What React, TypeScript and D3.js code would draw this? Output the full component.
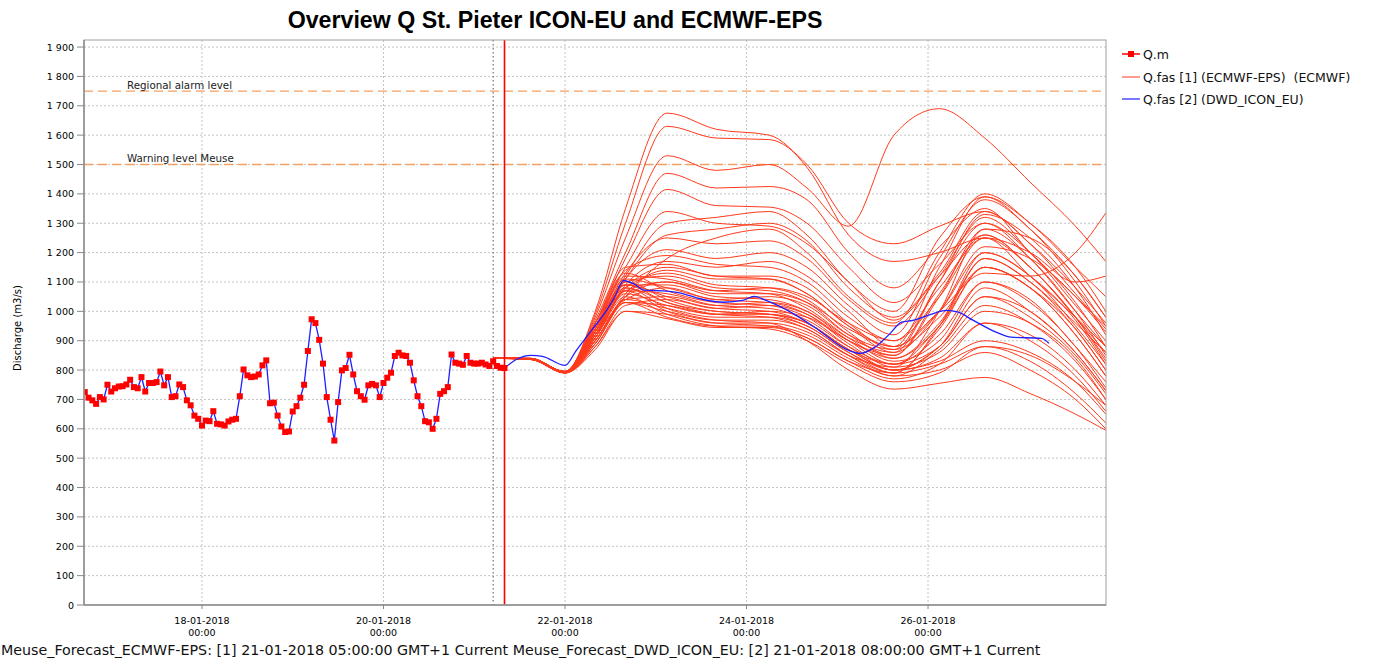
import React, { useEffect, useRef } from 'react';
import * as d3 from 'd3';

// observed discharge Q.m, hourly from 16-01-2018 17:00 up to 21-01-2018 08:00
const qmStart = '2018-01-16T17:00';
const qmValues = [
  725, 706, 697, 685, 708, 700, 750, 727, 738, 744,
  745, 751, 767, 742, 738, 776, 727, 756, 756, 759,
  795, 748, 776, 708, 711, 751, 742, 697, 680, 645,
  634, 611, 628, 626, 660, 617, 615, 611, 625, 631,
  634, 711, 802, 782, 776, 778, 785, 816, 833, 687,
  689, 645, 608, 589, 591, 659, 677, 706, 750, 865,
  973, 960, 903, 822, 708, 631, 560, 691, 799, 807,
  852, 785, 728, 711, 699, 748, 753, 748, 708, 756,
  774, 791, 848, 859, 850, 848, 825, 765, 711, 677,
  626, 622, 600, 634, 719, 728, 742, 853, 825, 822,
  818, 848, 825, 822, 822, 825, 819, 814, 830, 814,
  808, 807,
];

// Q.fas [2] DWD ICON-EU forecast, issued 21-01-2018 08:00
const dwdTimes = [
  '2018-01-21T08:00', '2018-01-21T11:00', '2018-01-21T15:00', '2018-01-21T18:00',
  '2018-01-22T00:00', '2018-01-22T03:00', '2018-01-22T07:00', '2018-01-22T11:00',
  '2018-01-22T13:00', '2018-01-22T15:30', '2018-01-22T18:00', '2018-01-22T21:00',
  '2018-01-23T02:00', '2018-01-23T06:00', '2018-01-23T12:00', '2018-01-23T18:00',
  '2018-01-23T23:00', '2018-01-24T02:00', '2018-01-24T05:00', '2018-01-24T12:00',
  '2018-01-24T18:00', '2018-01-25T03:00', '2018-01-25T06:00', '2018-01-25T10:00',
  '2018-01-25T14:00', '2018-01-25T17:00', '2018-01-25T20:00', '2018-01-26T00:00',
  '2018-01-26T05:00', '2018-01-26T08:00', '2018-01-26T12:00', '2018-01-26T18:00',
  '2018-01-26T22:00', '2018-01-27T06:00', '2018-01-27T08:00',
];
const dwdValues = [
  807, 835, 850, 847,
  816, 867, 935, 1003,
  1045, 1105, 1095, 1072,
  1070, 1064, 1042, 1031,
  1037, 1051, 1038, 995,
  946, 867, 857, 878,
  925, 963, 969, 986,
  1003, 997, 969, 929,
  912, 908, 891,
];

// Q.fas [1] ECMWF-EPS members, issued 21-01-2018 05:00
const ecmwfTimes = [
  '2018-01-21T05:00', '2018-01-21T15:00', '2018-01-22T00:00', '2018-01-22T08:00',
  '2018-01-22T16:00', '2018-01-23T03:00', '2018-01-23T16:00', '2018-01-24T06:00',
  '2018-01-24T16:00', '2018-01-25T03:00', '2018-01-25T15:00', '2018-01-26T03:00',
  '2018-01-26T15:00', '2018-01-27T03:00', '2018-01-27T15:00', '2018-01-27T23:00',
];
const ecmwfMembers = [
  [842, 840, 795, 1000, 1350, 1675, 1620, 1600, 1490, 1260, 1170, 1200, 1250, 1120, 980, 880],
  [842, 838, 796, 990, 1300, 1630, 1590, 1585, 1500, 1300, 1230, 1290, 1340, 1230, 1080, 960],
  [840, 840, 794, 980, 1250, 1530, 1480, 1500, 1420, 1290, 1600, 1690, 1590, 1440, 1290, 1170],
  [841, 840, 795, 970, 1200, 1470, 1420, 1425, 1380, 1200, 1080, 1220, 1350, 1200, 1050, 950],
  [842, 838, 793, 960, 1180, 1415, 1360, 1355, 1300, 1150, 1030, 1160, 1300, 1180, 1000, 880],
  [840, 839, 795, 960, 1150, 1340, 1300, 1290, 1230, 1100, 970, 1120, 1260, 1150, 980, 830],
  [841, 838, 792, 940, 1130, 1250, 1230, 1240, 1180, 1040, 950, 1120, 1320, 1200, 1020, 900],
  [840, 837, 793, 930, 1110, 1210, 1180, 1200, 1150, 1020, 920, 1180, 1380, 1280, 1100, 950],
  [842, 839, 794, 950, 1140, 1190, 1160, 1150, 1100, 980, 900, 1050, 1250, 1150, 980, 860],
  [840, 838, 791, 920, 1090, 1170, 1150, 1170, 1120, 1000, 880, 1000, 1200, 1120, 950, 820],
  [841, 840, 795, 960, 1150, 1160, 1120, 1120, 1080, 960, 870, 980, 1150, 1080, 920, 780],
  [840, 836, 790, 900, 1060, 1140, 1110, 1110, 1060, 950, 860, 1100, 1330, 1250, 1080, 920],
  [842, 838, 793, 910, 1080, 1130, 1090, 1080, 1040, 930, 840, 950, 1180, 1100, 940, 800],
  [840, 837, 792, 930, 1100, 1120, 1080, 1070, 1030, 920, 850, 1050, 1280, 1180, 1000, 850],
  [841, 839, 794, 940, 1120, 1110, 1070, 1060, 1010, 910, 830, 900, 1100, 1040, 880, 760],
  [840, 838, 791, 900, 1050, 1100, 1060, 1060, 1030, 940, 880, 1150, 1390, 1300, 1150, 1000],
  [842, 837, 793, 920, 1090, 1090, 1050, 1040, 1000, 900, 820, 880, 1050, 1000, 860, 730],
  [840, 838, 794, 950, 1110, 1080, 1040, 1030, 990, 890, 810, 860, 1000, 960, 840, 700],
  [841, 836, 790, 890, 1040, 1080, 1040, 1050, 1020, 920, 870, 1100, 1300, 1200, 1030, 880],
  [840, 839, 795, 960, 1130, 1070, 1030, 1020, 980, 880, 800, 840, 960, 920, 800, 680],
  [842, 838, 792, 910, 1070, 1060, 1020, 1010, 970, 880, 820, 950, 1150, 1080, 920, 780],
  [840, 837, 793, 930, 1090, 1050, 1010, 1000, 960, 870, 800, 830, 900, 860, 760, 650],
  [841, 838, 791, 900, 1040, 1050, 1020, 1030, 1000, 910, 860, 1000, 1220, 1180, 1050, 930],
  [840, 839, 794, 940, 1100, 1040, 1000, 990, 950, 860, 790, 820, 880, 830, 720, 620],
  [842, 836, 790, 880, 1020, 1040, 1010, 1020, 990, 900, 850, 1060, 1260, 1150, 980, 840],
  [840, 838, 793, 920, 1080, 1030, 990, 980, 940, 850, 780, 800, 860, 800, 700, 600],
  [841, 837, 792, 910, 1060, 1020, 990, 990, 960, 870, 820, 920, 1100, 1030, 880, 740],
  [840, 838, 794, 940, 1080, 1010, 970, 960, 900, 800, 735, 755, 775, 720, 650, 595],
  [842, 838, 791, 900, 1040, 1010, 980, 980, 950, 860, 800, 880, 1050, 980, 850, 720],
  [840, 836, 792, 890, 1030, 1000, 970, 970, 940, 850, 790, 950, 1200, 1120, 970, 820],
  [841, 839, 794, 930, 1070, 1000, 960, 950, 910, 830, 770, 820, 960, 900, 780, 660],
  [840, 837, 790, 870, 1000, 990, 960, 960, 930, 850, 810, 1000, 1280, 1250, 1120, 980],
  [842, 838, 793, 910, 1050, 990, 950, 940, 900, 820, 760, 790, 880, 850, 760, 680],
  [840, 838, 792, 900, 1030, 980, 950, 950, 920, 840, 780, 870, 1020, 960, 830, 700],
  [841, 836, 791, 880, 1000, 975, 945, 945, 910, 830, 790, 940, 1150, 1080, 940, 800],
  [840, 839, 794, 920, 1050, 1180, 1250, 1280, 1200, 1050, 960, 1200, 1400, 1300, 1150, 1050],
  [842, 838, 795, 940, 1120, 1300, 1320, 1340, 1260, 1100, 1000, 1250, 1390, 1280, 1120, 980],
  [840, 837, 793, 930, 1110, 1260, 1280, 1300, 1240, 1080, 980, 1130, 1340, 1230, 1060, 940],
  [841, 838, 792, 920, 1080, 1150, 1120, 1110, 1060, 950, 880, 1000, 1130, 1120, 1200, 1335],
  [840, 838, 794, 910, 1070, 1100, 1070, 1080, 1050, 960, 900, 1080, 1250, 1200, 1100, 1120],
  [842, 837, 791, 890, 1030, 1020, 990, 1000, 980, 900, 840, 960, 1180, 1100, 960, 860],
  [840, 839, 795, 950, 1090, 1030, 1000, 990, 960, 870, 800, 880, 1080, 1000, 860, 730],
];

const thresholds = [
  { label: 'Regional alarm level', value: 1750 },
  { label: 'Warning level Meuse', value: 1500 },
];
const xTickDates = ['2018-01-18T00:00', '2018-01-20T00:00', '2018-01-22T00:00', '2018-01-24T00:00', '2018-01-26T00:00'];
const legendLabels = ['Q.m', 'Q.fas [1] (ECMWF-EPS)  (ECMWF)', 'Q.fas [2] (DWD_ICON_EU)'];
const forecastTimes = ['2018-01-21T05:00', '2018-01-21T08:00']; // ECMWF, DWD issue times
const footer = 'Meuse_Forecast_ECMWF-EPS: [1] 21-01-2018 05:00:00 GMT+1 Current Meuse_Forecast_DWD_ICON_EU: [2] 21-01-2018 08:00:00 GMT+1 Current';

const W = 1373;
const H = 666;
const FONT = '"DejaVu Sans", Verdana, sans-serif';
const ENS_COLOR = '#ff3a1c';
const BLUE = '#1f1fff';

const App = () => {
  const ref = useRef<SVGSVGElement>(null);

  useEffect(() => {
    document.body.style.margin = '0';
    drawChart();
  }, []);

  const drawChart = () => {
    const parse = d3.timeParse('%Y-%m-%dT%H:%M');
    const svg = d3.select(ref.current);
    svg.selectAll('*').remove();

    const left = 84, right = 1106, top = 40, bottom = 605;

    const x = d3.scaleTime()
      .domain([new Date(2018, 0, 16, 16, 48), new Date(2018, 0, 27, 23, 4)])
      .range([left, right]);
    const y = d3.scaleLinear().domain([0, 1924]).range([bottom, top]);

    const fmt = d3.formatLocale({ decimal: ',', thousands: '\u00a0', grouping: [3], currency: ['', ''] }).format(',d');

    svg.append('rect').attr('width', W).attr('height', H).attr('fill', '#fff');

    // title
    svg.append('text')
      .attr('x', 555).attr('y', 28)
      .attr('text-anchor', 'middle')
      .style('font-family', '"Liberation Sans", Arial, sans-serif')
      .style('font-weight', 'bold')
      .style('font-size', '23.2px')
      .text('Overview Q St. Pieter ICON-EU and ECMWF-EPS');

    // grid
    const yTicks = d3.range(100, 2000, 100);
    svg.append('g').selectAll('line').data(yTicks).enter().append('line')
      .attr('x1', left).attr('x2', right)
      .attr('y1', d => y(d)).attr('y2', d => y(d))
      .attr('stroke', '#c4c4c4').attr('stroke-dasharray', '2,2');
    const xTicks = xTickDates.map(d => parse(d) as Date);
    svg.append('g').selectAll('line').data(xTicks).enter().append('line')
      .attr('x1', d => x(d)).attr('x2', d => x(d))
      .attr('y1', top).attr('y2', bottom)
      .attr('stroke', '#c4c4c4').attr('stroke-dasharray', '2,2');

    // thresholds
    thresholds.forEach((t, i) => {
      svg.append('line')
        .attr('x1', left).attr('x2', right)
        .attr('y1', y(t.value)).attr('y2', y(t.value))
        .attr('stroke', '#f5a060').attr('stroke-width', 1.4)
        .attr('stroke-dasharray', '9,5');
      svg.append('text')
        .attr('x', 127).attr('y', y(t.value) - (i === 0 ? 2 : 3))
        .style('font-family', FONT).style('font-size', '10.3px')
        .attr('fill', '#222')
        .text(t.label);
    });

    svg.append('clipPath').attr('id', 'plot-clip')
      .append('rect').attr('x', left).attr('y', top).attr('width', right - left).attr('height', bottom - top);
    const plot = svg.append('g').attr('clip-path', 'url(#plot-clip)');

    // ECMWF ensemble
    const ensT = ecmwfTimes.map(d => parse(d) as Date);
    const ensLine = d3.line<number>()
      .x((_, i) => x(ensT[i]))
      .y(d => y(d))
      .curve(d3.curveMonotoneX);
    plot.append('g').selectAll('path').data(ecmwfMembers).enter().append('path')
      .attr('d', d => ensLine(d))
      .attr('fill', 'none')
      .attr('stroke', ENS_COLOR)
      .attr('stroke-width', 1);

    // forecast issue lines
    const [ecTime, dwdTime] = forecastTimes.map(d => parse(d) as Date);
    plot.append('line')
      .attr('x1', x(ecTime)).attr('x2', x(ecTime)).attr('y1', top).attr('y2', bottom)
      .attr('stroke', '#555').attr('stroke-dasharray', '1.5,2.5');
    plot.append('line')
      .attr('x1', x(dwdTime)).attr('x2', x(dwdTime)).attr('y1', top).attr('y2', bottom)
      .attr('stroke', '#ff0000').attr('stroke-width', 1.6);

    // observed + DWD
    const t0 = parse(qmStart) as Date;
    const obs = qmValues.map((v, i) => ({ t: d3.timeHour.offset(t0, i), v }));
    const dwd = dwdTimes.map((d, i) => ({ t: parse(d) as Date, v: dwdValues[i] }));
    const linear = d3.line<{ t: Date; v: number }>().x(d => x(d.t)).y(d => y(d.v));
    const smooth = d3.line<{ t: Date; v: number }>().x(d => x(d.t)).y(d => y(d.v)).curve(d3.curveMonotoneX);
    plot.append('path').attr('d', linear(obs)).attr('fill', 'none').attr('stroke', BLUE).attr('stroke-width', 1.3);
    plot.append('path').attr('d', smooth(dwd)).attr('fill', 'none').attr('stroke', BLUE).attr('stroke-width', 1.3);

    plot.append('g').selectAll('rect').data(obs).enter().append('rect')
      .attr('x', d => x(d.t) - 3).attr('y', d => y(d.v) - 3)
      .attr('width', 6).attr('height', 6)
      .attr('fill', '#ff0000');

    // frame
    svg.append('rect')
      .attr('x', left).attr('y', top).attr('width', right - left).attr('height', bottom - top)
      .attr('fill', 'none').attr('stroke', '#a0a0a0');
    svg.append('line').attr('x1', left).attr('x2', left).attr('y1', top).attr('y2', bottom)
      .attr('stroke', '#8c8c8c').attr('stroke-width', 1.5);
    svg.append('line').attr('x1', left).attr('x2', right).attr('y1', bottom).attr('y2', bottom)
      .attr('stroke', '#8c8c8c').attr('stroke-width', 1.5);

    // y axis
    const yAxis = svg.append('g');
    yAxis.selectAll('line').data(d3.range(0, 2000, 100)).enter().append('line')
      .attr('x1', 77).attr('x2', left).attr('y1', d => y(d)).attr('y2', d => y(d))
      .attr('stroke', '#888');
    yAxis.selectAll('text').data(d3.range(0, 2000, 100)).enter().append('text')
      .attr('x', 74).attr('y', d => y(d) + 3.5)
      .attr('text-anchor', 'end')
      .style('font-family', FONT).style('font-size', '9.5px')
      .attr('fill', '#000')
      .text(d => fmt(d));
    svg.append('text')
      .attr('transform', 'translate(21,328) rotate(-90)')
      .attr('text-anchor', 'middle')
      .style('font-family', FONT).style('font-size', '10px')
      .text('Discharge (m3/s)');

    // x axis
    const xAxis = svg.append('g');
    xAxis.selectAll('line').data(xTicks).enter().append('line')
      .attr('x1', d => x(d)).attr('x2', d => x(d)).attr('y1', bottom).attr('y2', bottom + 4)
      .attr('stroke', '#888');
    const lab = xAxis.selectAll('text').data(xTicks).enter().append('text')
      .attr('text-anchor', 'middle')
      .style('font-family', FONT).style('font-size', '9.5px')
      .attr('fill', '#000');
    lab.append('tspan').attr('x', d => x(d)).attr('y', 623.5).text(d3.timeFormat('%d-%m-%Y'));
    lab.append('tspan').attr('x', d => x(d)).attr('y', 636).text(d3.timeFormat('%H:%M'));

    // legend
    const legend = svg.append('g').attr('transform', 'translate(1122,0)');
    const rows = [54, 77, 99];
    const colors = ['#ff0000', '#ff5a44', BLUE];
    legendLabels.forEach((txt, i) => {
      legend.append('line').attr('x1', 0).attr('x2', 18).attr('y1', rows[i]).attr('y2', rows[i])
        .attr('stroke', colors[i]).attr('stroke-width', i === 0 ? 1.5 : 1.2);
      if (i === 0) {
        legend.append('rect').attr('x', 6).attr('y', rows[i] - 3).attr('width', 6).attr('height', 6).attr('fill', '#ff0000');
      }
      legend.append('text').attr('x', 21).attr('y', rows[i] + 4.5)
        .style('font-family', FONT).style('font-size', '12.5px')
        .style('white-space', 'pre')
        .attr('fill', '#111')
        .text(txt);
    });

    // footer
    svg.append('text')
      .attr('x', 1).attr('y', 655)
      .style('font-family', FONT).style('font-size', '14.25px')
      .attr('fill', '#111')
      .text(footer);
  };

  return (
    <svg ref={ref} width={W} height={H} style={{ display: 'block' }} />
  );
};

export default App;
